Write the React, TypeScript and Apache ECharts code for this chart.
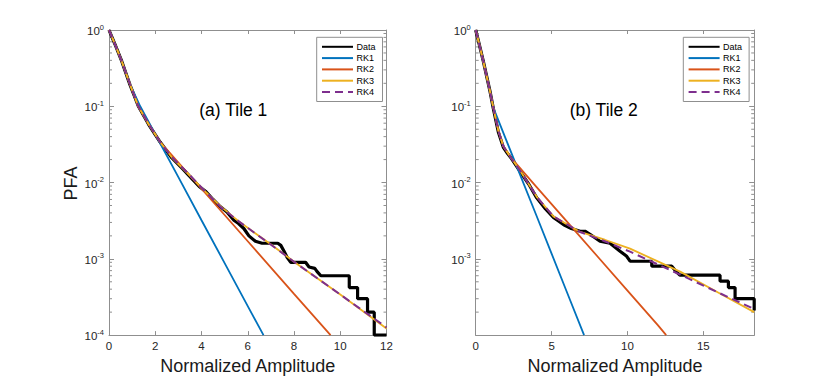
import React, { useEffect, useRef } from "react";
import * as echarts from "echarts";

// ---------- data (x = normalized amplitude, y = PFA) ----------
const seriesNames = ["Data", "RK1", "RK2", "RK3", "RK4"];
const panelLabels = ["(a) Tile 1", "(b) Tile 2"];
const xAxisTitle = "Normalized Amplitude";
const yAxisTitle = "PFA";

// Tile 1
const dataA: number[][] = [
  [0, 1], [0.25, 0.66], [0.55, 0.39], [0.91, 0.19], [1.27, 0.1], [1.71, 0.058], [2.21, 0.034],
  [2.72, 0.021], [3.2, 0.015], [3.44, 0.0125], [3.9, 0.0089], [4.17, 0.0077], [4.5, 0.006],
  [4.82, 0.0048], [5.1, 0.0041], [5.4, 0.0032], [5.6, 0.0029], [5.83, 0.0025], [6.05, 0.002],
  [6.33, 0.0017], [6.62, 0.0016], [7.1, 0.0016], [7.3, 0.0016], [7.43, 0.0015], [7.57, 0.00126],
  [7.7, 0.00105], [7.86, 0.0009], [8.5, 0.0009], [8.65, 0.00078], [8.9, 0.00075], [9.0, 0.00068],
  [9.16, 0.0006], [10.39, 0.0006], [10.39, 0.00042], [10.75, 0.00042], [10.75, 0.0003],
  [11.18, 0.0003], [11.18, 0.0002], [11.47, 0.0002], [11.47, 0.0001], [12, 0.0001],
];
const rk1A: number[][] = [
  [0, 1], [0.25, 0.66], [0.55, 0.39], [0.91, 0.193], [1.35, 0.1], [2, 0.043], [3, 0.0118],
  [4, 0.0032], [5, 0.00088], [6, 0.00024], [6.68, 0.0001],
];
const rk2A: number[][] = [
  [0, 1], [0.25, 0.66], [0.55, 0.39], [0.91, 0.193], [1.27, 0.1], [1.71, 0.059], [2.21, 0.034],
  [2.6, 0.025], [4, 0.0083], [6, 0.0017], [8, 0.000347], [9.58, 0.0001],
];
const rk3A: number[][] = [
  [0, 1], [0.25, 0.66], [0.55, 0.39], [0.91, 0.192], [1.27, 0.099], [1.71, 0.058], [2.21, 0.034],
  [2.72, 0.0213], [3.44, 0.0128], [4.17, 0.0076], [4.82, 0.0049], [5.61, 0.0031], [6.99, 0.00155],
  [8.15, 0.00085], [10, 0.00034], [12, 0.000122],
];
const rk4A: number[][] = [
  [0, 1], [0.25, 0.66], [0.55, 0.39], [0.91, 0.193], [1.27, 0.1], [1.71, 0.059], [2.21, 0.034],
  [2.72, 0.0215], [3.44, 0.013], [4.17, 0.0076], [4.82, 0.0048], [5.61, 0.0031], [6.99, 0.00154],
  [8.15, 0.00085], [10, 0.00034], [12, 0.000126],
];

// Tile 2
const dataB: number[][] = [
  [0, 1], [0.25, 0.63], [0.5, 0.39], [0.94, 0.158], [1.16, 0.094], [1.49, 0.046], [1.82, 0.029],
  [2.1, 0.024], [2.37, 0.0205], [2.92, 0.014], [3.5, 0.0095], [4.02, 0.0063], [4.6, 0.0045],
  [5.12, 0.0035], [5.5, 0.0031], [5.8, 0.0028], [6.3, 0.0025], [6.88, 0.0023], [7.2, 0.0023],
  [7.53, 0.0021], [8.19, 0.0017], [8.85, 0.0016], [9.51, 0.00126], [9.95, 0.00108],
  [10.17, 0.00093], [11.6, 0.00093], [11.6, 0.0008], [12.92, 0.0008], [13.2, 0.00068],
  [13.47, 0.00061], [16.1, 0.00061], [16.1, 0.00051], [16.65, 0.00051], [16.65, 0.00042],
  [17.09, 0.00042], [17.09, 0.0003], [18.35, 0.0003], [18.35, 0.00021],
];
const rk1B: number[][] = [
  [0, 1], [0.25, 0.63], [0.5, 0.39], [0.94, 0.158], [1.16, 0.096], [2, 0.0365], [3, 0.0116],
  [4, 0.0037], [5, 0.00117], [6, 0.00037], [7.14, 0.0001],
];
const rk2B: number[][] = [
  [0, 1], [0.25, 0.63], [0.5, 0.39], [0.94, 0.158], [1.16, 0.096], [1.49, 0.048], [1.82, 0.03],
  [2.37, 0.0205], [2.48, 0.0195], [4, 0.0088], [6, 0.0031], [8, 0.00109], [10, 0.000383],
  [12, 0.000135], [12.55, 0.0001],
];
const rk3B: number[][] = [
  [0, 1], [0.25, 0.63], [0.5, 0.39], [0.94, 0.158], [1.16, 0.096], [1.49, 0.048], [1.82, 0.03],
  [2.37, 0.0205], [2.92, 0.0144], [4.02, 0.0065], [5.12, 0.0036], [6.88, 0.00225], [8.5, 0.00178],
  [10.17, 0.00136], [13.47, 0.00068], [16, 0.00036], [18.35, 0.0002],
];
const rk4B: number[][] = [
  [0, 1], [0.25, 0.63], [0.5, 0.39], [0.94, 0.158], [1.16, 0.096], [1.49, 0.048], [1.82, 0.03],
  [2.37, 0.0205], [2.92, 0.0144], [4.02, 0.0065], [5.12, 0.0036], [6.88, 0.00225], [8.5, 0.0017],
  [10.17, 0.00124], [13.47, 0.00062], [16, 0.00036], [18.35, 0.00022],
];

const xMaxA = 12;
const xMaxB = 18.35;
const yMin = 1e-4;
const yMax = 1;
const minorMultipliers = [2, 3, 4, 5, 6, 7, 8, 9];
const minorDecades = [1e-4, 1e-3, 1e-2, 1e-1];

// ---------- styling ----------
const FONT = "'Liberation Sans', Arial, Helvetica, sans-serif";
const AX = "#8f8f8f";
const LBL = "#262626";
const COLORS = ["#000000", "#0072BD", "#D95319", "#EDB120", "#7E2F8E"];

const grids = [
  { left: 109, top: 30, width: 277.5, height: 307.5 },
  { left: 475.7, top: 30, width: 278.5, height: 307.5 },
];

function yLabel(hideMin: boolean) {
  return {
    show: true,
    margin: 5,
    formatter: (v: number) => {
      const e = Math.round(Math.log10(v));
      if (hideMin && e === -4) return "";
      return `{b|10}{s|${e}}`;
    },
    rich: {
      b: { fontSize: 11.5, color: LBL, fontFamily: FONT, lineHeight: 14, verticalAlign: "bottom" },
      s: { fontSize: 7.5, color: LBL, fontFamily: FONT, lineHeight: 8, verticalAlign: "top" },
    },
  };
}

function mkX(gridIndex: number, max: number, interval: number, top: boolean) {
  return {
    type: "value",
    gridIndex,
    position: top ? "top" : "bottom",
    min: 0,
    max,
    interval,
    axisLine: { show: true, onZero: false, lineStyle: { color: AX, width: 1 } },
    axisTick: { show: true, inside: true, length: 4, lineStyle: { color: AX } },
    splitLine: { show: false },
    axisLabel: top
      ? { show: false }
      : {
          show: true,
          margin: 5,
          fontSize: 11.5,
          color: LBL,
          fontFamily: FONT,
          formatter: (v: number) => (Math.abs(v / interval - Math.round(v / interval)) < 1e-9 ? String(v) : ""),
        },
    name: top ? "" : xAxisTitle,
    nameLocation: "middle",
    nameGap: 18,
    nameTextStyle: { fontSize: 18, color: "#1a1a1a", fontFamily: FONT },
  };
}

function mkY(gridIndex: number, right: boolean, hideMin: boolean) {
  return {
    type: "log",
    logBase: 10,
    gridIndex,
    position: right ? "right" : "left",
    min: yMin,
    max: yMax,
    splitNumber: 4,
    axisLine: { show: true, onZero: false, lineStyle: { color: AX, width: 1 } },
    axisTick: { show: true, inside: true, length: 5, lineStyle: { color: AX } },
    splitLine: { show: false },
    axisLabel: right ? { show: false } : yLabel(hideMin),
  };
}

function lineSeries(name: string, data: number[][], idx: number, xi: number, yi: number) {
  const isData = name === "Data";
  const isDash = name === "RK4";
  return {
    type: "line",
    name,
    data,
    xAxisIndex: xi,
    yAxisIndex: yi,
    symbol: "none",
    showSymbol: false,
    clip: true,
    z: 2 + idx,
    color: COLORS[idx],
    lineStyle: {
      color: COLORS[idx],
      width: isData ? 3.2 : isDash ? 2 : 1.8,
      type: isDash ? [8, 5] : "solid",
    },
  };
}

function minorTickSeries(xi: number, yi: number, xMax: number) {
  const vals: number[][] = [];
  minorDecades.forEach((d) => minorMultipliers.forEach((m) => vals.push([0, m * d])));
  return {
    type: "custom",
    name: "minor",
    xAxisIndex: xi,
    yAxisIndex: yi,
    silent: true,
    clip: false,
    z: 1,
    data: vals,
    encode: { x: 0, y: 1 },
    renderItem: (_p: any, api: any) => {
      const v = api.value(1);
      const l = api.coord([0, v]);
      const r = api.coord([xMax, v]);
      return {
        type: "group",
        children: [
          { type: "line", shape: { x1: l[0], y1: l[1], x2: l[0] + 3, y2: l[1] }, style: { stroke: AX, lineWidth: 1 } },
          { type: "line", shape: { x1: r[0] - 3, y1: r[1], x2: r[0], y2: r[1] }, style: { stroke: AX, lineWidth: 1 } },
        ],
      };
    },
  };
}

function legend(left: number) {
  return {
    show: true,
    orient: "vertical",
    left,
    top: 37.3,
    data: seriesNames,
    itemWidth: 31,
    itemHeight: 10,
    itemGap: 0.3,
    padding: [4, 7, 4, 4.3],
    backgroundColor: "#ffffff",
    borderColor: AX,
    borderWidth: 1,
    borderRadius: 0,
    selectedMode: false,
    itemStyle: { opacity: 0, borderWidth: 0 },
    textStyle: { fontSize: 9, color: "#000", fontFamily: FONT, lineHeight: 11, padding: [0, 0, 0, -1.5] },
  };
}

export default function App() {
  const ref = useRef<HTMLDivElement>(null);
  useEffect(() => {
    if (!ref.current) return;
    const chart = echarts.init(ref.current, undefined, { renderer: "svg" });
    const setsA = [dataA, rk1A, rk2A, rk3A, rk4A];
    const setsB = [dataB, rk1B, rk2B, rk3B, rk4B];
    const series: any[] = [];
    seriesNames.forEach((n, i) => series.push(lineSeries(n, setsA[i], i, 0, 0)));
    seriesNames.forEach((n, i) => series.push(lineSeries(n, setsB[i], i, 2, 2)));
    series.push(minorTickSeries(0, 0, xMaxA));
    series.push(minorTickSeries(2, 2, xMaxB));

    const option: any = {
      animation: false,
      backgroundColor: "#ffffff",
      textStyle: { fontFamily: FONT },
      grid: grids.map((g) => ({ ...g, containLabel: false })),
      xAxis: [mkX(0, xMaxA, 2, false), mkX(0, xMaxA, 2, true), mkX(1, xMaxB, 5, false), mkX(1, xMaxB, 5, true)],
      yAxis: [mkY(0, false, false), mkY(0, true, false), mkY(1, false, true), mkY(1, true, true)],
      legend: [legend(316.7), legend(683.3)],
      series,
      graphic: [
        {
          type: "text",
          x: 233.3,
          y: 110,
          style: { text: panelLabels[0], fontSize: 17.5, fill: "#000", fontFamily: FONT, align: "center", verticalAlign: "middle" },
        },
        {
          type: "text",
          x: 603.7,
          y: 110,
          style: { text: panelLabels[1], fontSize: 17.5, fill: "#000", fontFamily: FONT, align: "center", verticalAlign: "middle" },
        },
        {
          type: "text",
          x: 71,
          y: 183.5,
          rotation: Math.PI / 2,
          style: { text: yAxisTitle, fontSize: 18, fill: "#1a1a1a", fontFamily: FONT, align: "center", verticalAlign: "middle" },
        },
      ],
    };
    chart.setOption(option);
    return () => chart.dispose();
  }, []);
  return (
    <div
      ref={ref}
      style={{ position: "absolute", left: 0, top: 0, width: 834, height: 380, background: "#fff" }}
    />
  );
}
